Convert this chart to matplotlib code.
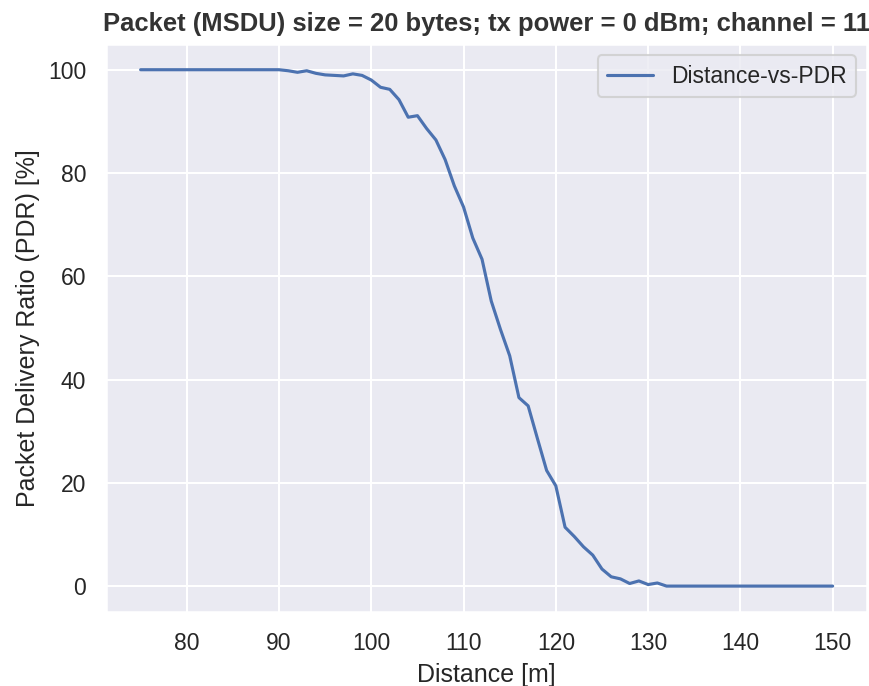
import matplotlib
matplotlib.use('Agg')
import matplotlib.pyplot as plt
import numpy as np
import seaborn as sns

sns.set_theme(context='notebook', style='darkgrid')
plt.rcParams['font.family'] = ['Liberation Sans', 'DejaVu Sans']

distance = np.arange(75, 151)
pdr_head = [100.0] * 16  # 75..90
pdr_mid = [99.8, 99.5, 99.8, 99.3, 99.0, 98.9, 98.8, 99.2, 98.9, 98.0,
           96.6, 96.2, 94.2, 90.8, 91.1, 88.6, 86.4, 82.6, 77.5, 73.4,
           67.4, 63.3, 55.2, 49.7, 44.6, 36.5, 34.9, 28.6, 22.4, 19.4,
           11.4, 9.6, 7.6, 6.0, 3.3, 1.8, 1.4, 0.5, 1.0, 0.3, 0.6]  # 91..131
pdr_tail = [0.0] * 19  # 132..150
pdr = pdr_head + pdr_mid + pdr_tail

fig = plt.figure(figsize=(869 / 150, 686 / 150), dpi=150)
ax = fig.add_axes([0.122, 0.108, 0.876, 0.828])
ax.plot(distance, pdr, label='Distance-vs-PDR')
ax.set_xlabel('Distance [m]')
ax.set_ylabel('Packet Delivery Ratio (PDR) [%]')
ax.set_title('Packet (MSDU) size = 20 bytes; tx power = 0 dBm; channel = 11',
             fontweight='bold', fontsize=12.3, color='#333333')
ax.set_xticks([80, 90, 100, 110, 120, 130, 140, 150])
ax.legend(loc='upper right')

fig.savefig('out.png', dpi=150)
